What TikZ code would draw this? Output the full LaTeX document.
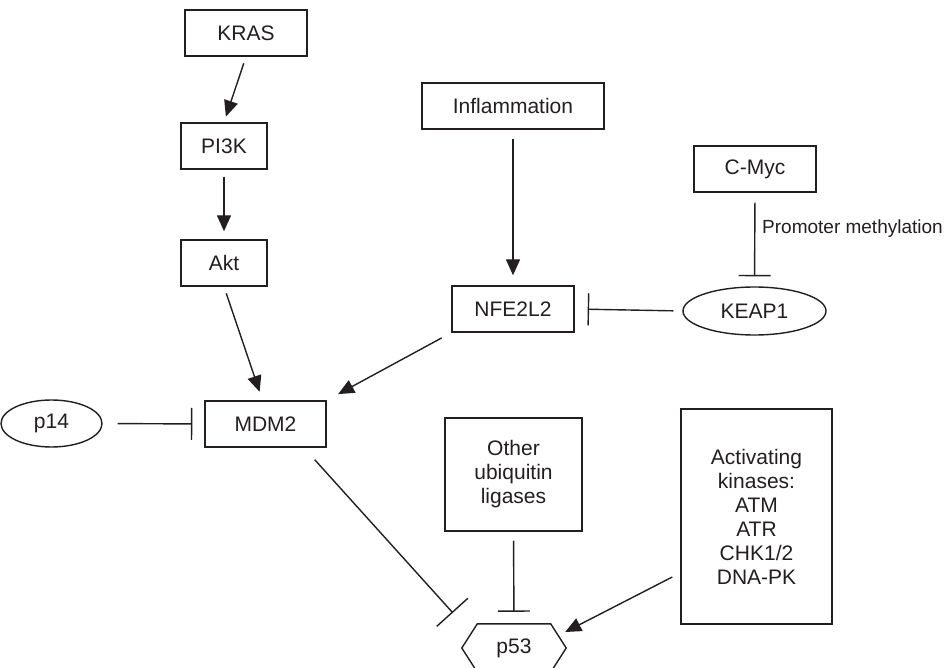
\documentclass[tikz,border=0pt]{standalone}
\usepackage{fontspec}
\setmainfont{Liberation Sans}
\usetikzlibrary{arrows.meta,calc,shapes.geometric}
\definecolor{ink}{HTML}{231F20}
\begin{document}
\begin{tikzpicture}[x=1pt,y=-1pt,
  every node/.style={text=ink,font=\fontsize{21}{24}\selectfont,inner sep=0pt},
  box/.style={draw=ink,line width=1.4pt,rectangle,align=center},
  oval/.style={draw=ink,line width=1.4pt,ellipse},
  conn/.style={draw=ink,line width=1.4pt},
  act/.style={conn,-{Triangle[length=16pt,width=14pt]}},
  inh/.style={conn,-{Bar[width=32pt,line width=1.4pt]}},
  inhw/.style={conn,-{Bar[width=42pt,line width=1.4pt]}}]
\clip (0,0) rectangle (947,668);
\fill[white] (0,0) rectangle (947,668);
% nodes
\node[box,minimum width=122pt,minimum height=46pt] (KRAS) at (246,33) {KRAS};
\node[box,minimum width=86pt,minimum height=46pt] (PI3K) at (224,146) {PI3K};
\node[box,minimum width=86pt,minimum height=46pt] (Akt) at (224,263) {Akt};
\node[box,minimum width=182pt,minimum height=46pt] (Infl) at (513,106) {Inflammation};
\node[box,minimum width=122pt,minimum height=46pt] (CMyc) at (755,169) {C-Myc};
\node[box,minimum width=122pt,minimum height=46pt] (NFE) at (513,309) {NFE2L2};
\node[oval,minimum width=143pt,minimum height=48pt] (KEAP) at (754.5,311) {KEAP1};
\node[oval,minimum width=101pt,minimum height=47pt] (p14) at (51.5,423.5) {p14};
\node[box,minimum width=121pt,minimum height=46pt] (MDM2) at (265.5,424) {MDM2};
\node[box,minimum width=137pt,minimum height=113pt] (Other) at (513.5,474.5) {Other\\ubiquitin\\ligases};
\node[box,minimum width=151pt,minimum height=215pt] (Kin) at (756.5,516.5) {Activating\\kinases:\\ATM\\ATR\\CHK1/2\\DNA-PK};
\node[minimum width=104pt,minimum height=48pt] (p53) at (514,648) {p53};
\draw[conn] (p53.west) -- ([xshift=15.5pt]p53.north west) -- ([xshift=-15.5pt]p53.north east)
  -- (p53.east) -- ([xshift=-15.5pt]p53.south east) -- ([xshift=15.5pt]p53.south west) -- cycle;
\node[anchor=west,font=\fontsize{19}{22}\selectfont] (pm) at (762,229) {Promoter methylation};
% connectors
\draw[act,shorten <=7pt,shorten >=6pt] (KRAS.south) -- (PI3K.north);
\draw[act,shorten <=7pt,shorten >=8pt] (PI3K.south) -- (Akt.north);
\draw[act,shorten <=7pt,shorten >=9pt] (Akt.south) -- ([xshift=-3pt]MDM2.north);
\draw[act,shorten <=9pt,shorten >=10pt] (Infl.south) -- (NFE.north);
\draw[act,shorten <=11pt,shorten >=13pt] (NFE.south west) -- (MDM2.north east);
\draw[inh,shorten <=9pt,shorten >=13pt] (KEAP.west) -- (NFE.east);
\draw[inh,shorten <=10pt,shorten >=10pt] (CMyc.south) -- (KEAP.north);
\draw[inh,shorten <=15pt,shorten >=12pt] (p14.east) -- (MDM2.west);
\draw[inhw] ($(MDM2.south east)+(-12,12)$) -- ($(p53.north west)+(-9,-11)$);
\draw[inh,shorten <=9pt,shorten >=12pt] (Other.south) -- (p53.north);
\draw[act] ($(Kin.west)+(-8,60.5)$) -- ($(p53.east)+(-1,-16)$);
\end{tikzpicture}
\end{document}
